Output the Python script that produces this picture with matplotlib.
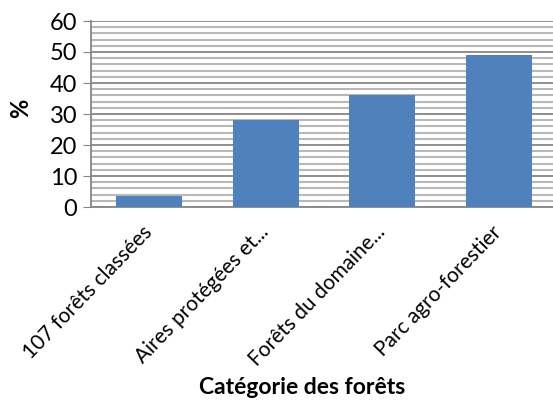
import matplotlib
matplotlib.use("Agg")
import matplotlib.pyplot as plt
from matplotlib.ticker import MultipleLocator

categories = ["107 forêts classées", "Aires protégées et...", "Forêts du domaine...", "Parc agro-forestier"]
values = [3.5, 28, 36, 49]
yticks = [0, 10, 20, 30, 40, 50, 60]

plt.rcParams['font.family'] = ['Lato', 'DejaVu Sans']

fig = plt.figure(figsize=(5.53, 4.15), dpi=100)
ax = fig.add_axes([91/553, 1-207/415, 466/553, 186/415])

x = range(len(categories))
ax.bar(x, values, width=0.57, color='#4F81BD', zorder=3)
ax.set_xlim(-0.5, len(categories) - 0.5)
ax.set_ylim(0, 60)
ax.set_yticks(yticks)
ax.yaxis.set_minor_locator(MultipleLocator(2))
ax.grid(which='major', axis='y', color='#868686', lw=1.3, zorder=0)
ax.grid(which='minor', axis='y', color='#b8b8b8', lw=1.5, zorder=0)
ax.set_axisbelow(True)

for s in ['top', 'right']:
    ax.spines[s].set_visible(False)
for s in ['left', 'bottom']:
    ax.spines[s].set_color('#868686')
    ax.spines[s].set_linewidth(1.3)

ax.tick_params(axis='y', which='major', length=6, color='#868686', labelsize=17, pad=4)
ax.tick_params(axis='y', which='minor', length=0)
ax.tick_params(axis='x', length=0, labelsize=15, pad=16)
ax.set_xticks(list(x))
ax.set_xticklabels(categories, rotation=46, ha='right', va='center', rotation_mode='anchor')

ax.set_ylabel('%', fontsize=17, fontweight='bold')
ax.yaxis.set_label_coords(-(91-32)/466, (207-108)/186)
fig.text(302/553, 1-387/415, 'Catégorie des forêts', fontsize=16.5, fontweight='bold', ha='center', va='center')

fig.savefig('out.png', dpi=100)
